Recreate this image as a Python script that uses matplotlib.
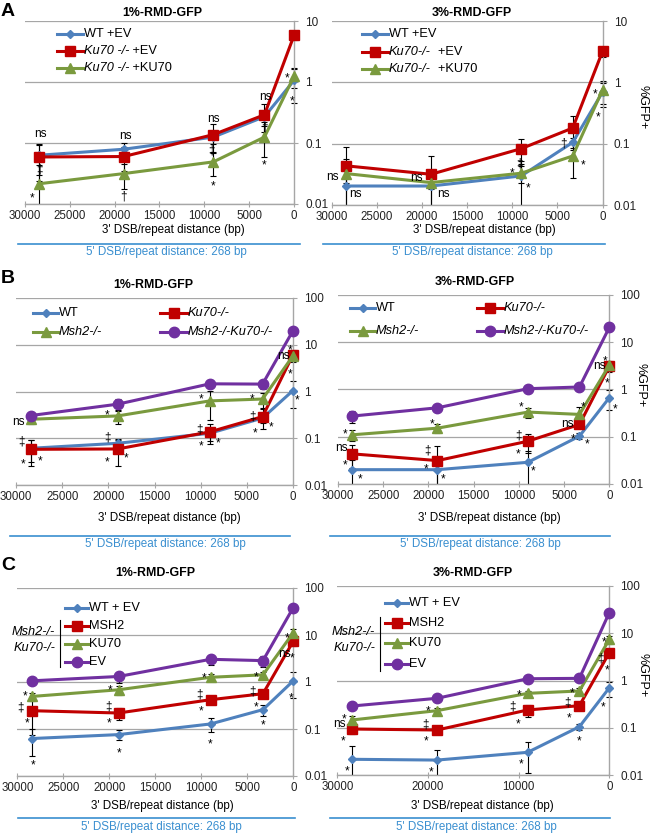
import numpy as np
import matplotlib
matplotlib.use('Agg')
import matplotlib.pyplot as plt
from matplotlib.lines import Line2D
from matplotlib.patches import Rectangle
from matplotlib.text import Annotation
from matplotlib.ticker import NullLocator

plt.rcParams['font.family'] = ['Liberation Sans', 'DejaVu Sans']

# 3' DSB/repeat distance (bp) of the five reporters
dist = [28400, 19000, 9000, 3300, 0]

# --- panel A (%GFP+, mean and sd) ---
a1_wt = [0.063, 0.079, 0.125, 0.27, 1.06]
a1_ku = [0.059, 0.060, 0.137, 0.29, 5.8]
a1_kuku = [0.0215, 0.0315, 0.049, 0.125, 1.24]
a1_wt_sd = [0.033, 0.02, 0.03, 0.05, 0.6]
a1_ku_sd = [0.035, 0.025, 0.065, 0.14, 1.0]
a1_kuku_sd = [0.022, 0.014, 0.02, 0.065, 0.45]

a2_wt = [0.0204, 0.0204, 0.0298, 0.105, 0.69]
a2_ku = [0.0435, 0.0317, 0.083, 0.18, 3.2]
a2_kuku = [0.0325, 0.0232, 0.033, 0.063, 0.75]
a2_wt_sd = [0.035, 0.015, 0.022, 0.02, 0.3]
a2_ku_sd = [0.045, 0.032, 0.036, 0.1, 0.6]
a2_kuku_sd = [0.01, 0.005, 0.01, 0.035, 0.3]

# --- panel B ---
b1_wt = [0.061, 0.078, 0.128, 0.27, 1.05]
b1_ku = [0.058, 0.059, 0.137, 0.29, 6.1]
b1_msh = [0.255, 0.30, 0.63, 0.69, 5.8]
b1_dko = [0.306, 0.535, 1.46, 1.44, 20.0]
b1_wt_sd = [0.03, 0.02, 0.04, 0.06, 0.6]
b1_ku_sd = [0.033, 0.033, 0.06, 0.13, 1.5]
b1_msh_sd = [0.05, 0.1, 0.38, 0.24, 1.5]
b1_dko_sd = [0.06, 0.16, 0.3, 0.3, 3.0]

b2_wt = [0.0201, 0.0201, 0.0288, 0.103, 0.67]
b2_ku = [0.0434, 0.0313, 0.0805, 0.182, 3.1]
b2_msh = [0.11, 0.152, 0.333, 0.297, 3.26]
b2_dko = [0.274, 0.41, 1.04, 1.13, 20.6]
b2_wt_sd = [0.012, 0.015, 0.02, 0.015, 0.3]
b2_ku_sd = [0.022, 0.033, 0.035, 0.03, 0.8]
b2_msh_sd = [0.03, 0.03, 0.08, 0.12, 0.8]
b2_dko_sd = [0.08, 0.05, 0.15, 0.15, 3.0]

# --- panel C ---
c1_wt = [0.0627, 0.076, 0.128, 0.258, 1.06]
c1_msh2 = [0.245, 0.219, 0.42, 0.563, 7.4]
c1_ku70 = [0.493, 0.683, 1.26, 1.42, 11.2]
c1_ev = [1.06, 1.31, 3.04, 2.85, 38.4]
c1_wt_sd = [0.036, 0.017, 0.043, 0.065, 0.6]
c1_msh2_sd = [0.17, 0.06, 0.06, 0.08, 1.5]
c1_ku70_sd = [0.1, 0.15, 0.2, 0.2, 2.0]
c1_ev_sd = [0.15, 0.35, 0.7, 0.8, 5.0]

c2_wt = [0.0215, 0.0207, 0.0302, 0.105, 0.70]
c2_msh2 = [0.094, 0.0896, 0.238, 0.293, 3.88]
c2_ku70 = [0.146, 0.23, 0.535, 0.6, 7.43]
c2_ev = [0.288, 0.42, 1.09, 1.11, 27.3]
c2_wt_sd = [0.02, 0.013, 0.019, 0.015, 0.25]
c2_msh2_sd = [0.02, 0.015, 0.065, 0.04, 0.8]
c2_ku70_sd = [0.035, 0.03, 0.06, 0.08, 1.5]
c2_ev_sd = [0.04, 0.05, 0.1, 0.1, 3.0]

# significance marks: (text, distance, %GFP+)
a1_notes = [('ns', 28250, 0.142), ('ns', 18850, 0.129), ('ns', 9000, 0.25), ('ns', 3230, 0.57),
            ('‡', 28400, 0.0366), ('*', 29250, 0.0145), ('†', 19030, 0.0134),
            ('‡', 9180, 0.074), ('*', 9070, 0.023), ('†', 3310, 0.178), ('*', 3310, 0.0507),
            ('*', 740, 1.34), ('*', 260, 0.57)]
a2_notes = [('ns', 29890, 0.029), ('ns', 27420, 0.0149), ('ns', 20590, 0.0273), ('ns', 17640, 0.0149),
            ('*', 10000, 0.0383), ('‡', 9150, 0.0474), ('*', 8230, 0.0218), ('†', 4350, 0.1),
            ('*', 2140, 0.0524), ('*', 850, 0.73), ('*', 480, 0.31)]
b1_notes = [('ns', 29750, 0.228), ('‡', 29390, 0.085), ('*', 29280, 0.0343), ('*', 27410, 0.0386),
            ('*', 20120, 0.373), ('‡', 20120, 0.103), ('*', 20120, 0.037), ('*', 18030, 0.0454),
            ('*', 9920, 0.82), ('‡', 10170, 0.156), ('*', 9990, 0.082), ('*', 8110, 0.097),
            ('*', 4400, 0.82), ('‡', 4400, 0.29), ('*', 4150, 0.158), ('*', 2340, 0.21),
            ('*', 290, 9.2), ('ns', 1080, 5.8), ('*', 290, 2.9), ('*', -470, 0.78)]
b2_notes = [('*', 29220, 0.14), ('ns', 29590, 0.057), ('*', 29220, 0.0298), ('*', 27570, 0.015),
            ('*', 19590, 0.221), ('‡', 20140, 0.051), ('*', 20220, 0.0254), ('*', 18380, 0.0155),
            ('*', 9810, 0.5), ('‡', 10000, 0.106), ('*', 10110, 0.053), ('*', 8450, 0.0226),
            ('*', 2940, 0.5), ('ns', 4600, 0.188), ('*', 4040, 0.11), ('*', 2460, 0.083),
            ('*', 480, 4.9), ('ns', 1100, 3.1), ('*', 290, 1.64), ('*', -660, 0.46)]
c1_notes = [('*', 29170, 0.6), ('‡', 29640, 0.29), ('*', 28980, 0.158), ('*', 28330, 0.0208),
            ('*', 19900, 0.8), ('‡', 20080, 0.303), ('*', 19980, 0.164), ('*', 18990, 0.0367),
            ('*', 9730, 1.49), ('‡', 10170, 0.535), ('*', 10020, 0.288), ('*', 9080, 0.0578),
            ('*', 4100, 1.54), ('‡', 4470, 0.63), ('*', 4100, 0.345), ('*', 3300, 0.144),
            ('*', 730, 10.5), ('ns', 1020, 3.94), ('*', 110, 3.94), ('*', 290, 0.56)]
c2_notes = [('*', 29260, 0.186), ('ns', 29780, 0.118), ('*', 29340, 0.063), ('*', 28970, 0.0145),
            ('*', 19990, 0.27), ('‡', 20240, 0.12), ('*', 20170, 0.0627), ('*', 19620, 0.0138),
            ('*', 9900, 0.58), ('‡', 10630, 0.279), ('*', 10010, 0.146), ('*', 9750, 0.0201),
            ('*', 4140, 0.65), ('‡', 4580, 0.345), ('*', 4400, 0.195), ('*', 3370, 0.0627),
            ('*', 550, 7.8), ('‡', 990, 2.94), ('*', 290, 2.03), ('*', 660, 0.329)]

# legend labels as (text, style) pieces
a1_labels = [[('WT +EV', 'normal')], [('Ku70 -/-', 'italic'), (' +EV', 'normal')],
             [('Ku70 -/-', 'italic'), (' +KU70', 'normal')]]
a2_labels = [[('WT +EV', 'normal')], [('Ku70-/-', 'italic'), ('  +EV', 'normal')],
             [('Ku70-/-', 'italic'), ('  +KU70', 'normal')]]
b_labels = [[('WT', 'normal')], [('Ku70-/-', 'italic')], [('Msh2-/-', 'italic')],
            [('Msh2-/-Ku70-/-', 'italic')]]
c_labels = [[('WT + EV', 'normal')], [('MSH2', 'normal')], [('KU70', 'normal')], [('EV', 'normal')]]

ticks_a = [0.01, 0.1, 1, 10]
ticklabels_a = ['0.01', '0.1', '1', '10']
ticks_bc = [0.01, 0.1, 1, 10, 100]
ticklabels_bc = ['0.01', '0.1', '1', '10', '100']
xticks_5k = [0, 5000, 10000, 15000, 20000, 25000, 30000]
xticks_10k = [0, 10000, 20000, 30000]

blue = '#4F81BD'
red = '#C00000'
green = '#7A9A3E'
purple = '#7030A0'
grey = '#A6A6A6'
sky = '#3A8FD0'
sty_wt = (blue, 'D', 4.5)
sty_red = (red, 's', 6.5)
sty_green = (green, '^', 7)
sty_purple = (purple, 'o', 7.5)

W, H = 650, 834
fig = plt.figure(figsize=(6.5, 8.34), dpi=100)


def ftext(x, y, s, **kw):
    return fig.text(x / W, 1 - y / H, s, **kw)


def panel(box, ymax, yticks, yticklabels, xticks, series, notes):
    x0, x1, ytop, ybot = box
    ax = fig.add_axes([x0 / W, 1 - ybot / H, (x1 - x0) / W, (ybot - ytop) / H])
    ax.set_yscale('log')
    ax.set_xlim(30000, 0)
    ax.set_ylim(0.01, ymax)
    for side in ['left', 'top']:
        ax.spines[side].set_visible(False)
    for side in ['right', 'bottom']:
        ax.spines[side].set_color(grey)
        ax.spines[side].set_linewidth(1.0)
    ax.yaxis.tick_right()
    ax.set_yticks(yticks)
    ax.set_yticklabels(yticklabels)
    ax.yaxis.set_minor_locator(NullLocator())
    ax.set_xticks(xticks)
    ax.set_xticklabels([str(t) for t in xticks])
    ax.tick_params(axis='x', direction='inout', length=5, color=grey, labelsize=8.3, pad=2,
                   labelcolor='#222222')
    ax.tick_params(axis='y', direction='out', length=3, color=grey, labelsize=8.5, pad=5,
                   labelcolor='#222222')
    ax.grid(axis='y', color=grey, lw=0.9)
    ax.set_axisbelow(True)
    clip = Rectangle((-0.06, 0), 1.12, 1.3, transform=ax.transAxes)
    for y, sd, (c, m, ms) in series:
        y = np.array(y)
        sd = np.array(sd)
        lo = np.minimum(sd, y * 0.999)
        eb = ax.errorbar(dist, y, yerr=[lo, sd], fmt='none', ecolor='black', elinewidth=0.8,
                         capsize=2.5, capthick=0.8, zorder=2)
        for art in list(eb.lines[1]) + list(eb.lines[2]):
            art.set_clip_path(clip)
    for y, sd, (c, m, ms) in series:
        ax.plot(dist, y, color=c, lw=2.2, marker=m, ms=ms, zorder=3, clip_on=False)
    for s, x, y in notes:
        dy = -3 if s == '*' else 0
        ax.annotate(s, (x, y), xytext=(0, dy), textcoords='offset points', ha='center',
                    va='center', fontsize=8.5, annotation_clip=False, zorder=4)
    return ax


def chain_entry(x0, x1, y, sty, parts, size=9.2):
    c, m, ms = sty
    fig.add_artist(Line2D([x0 / W, x1 / W], [1 - y / H] * 2, color=c, lw=2.2))
    fig.add_artist(Line2D([(x0 + x1) / 2 / W], [1 - y / H], color=c, marker=m, ms=ms))
    prev = ftext(x1 + 1, y, parts[0][0], style=parts[0][1], va='center', fontsize=size)
    for s, st in parts[1:]:
        prev = fig.add_artist(Annotation(s, xy=(1, 0.5), xycoords=prev, va='center', ha='left',
                                         style=st, fontsize=size))


def footer(xl, xr, xc_label, y_label, xc_blue, y_line, y_blue):
    ftext(xc_label, y_label, "3' DSB/repeat distance (bp)", ha='center', va='center', fontsize=8.4)
    fig.add_artist(Line2D([xl / W, xr / W], [1 - y_line / H] * 2, color=sky, lw=1.2))
    ftext(xc_blue, y_blue, "5' DSB/repeat distance: 268 bp", ha='center', va='center',
          fontsize=8.4, color=sky)


def titles(y_left, y_right, x_left, x_right):
    ftext(x_left, y_left, '1%-RMD-GFP', fontsize=8.9, weight='bold', ha='center', va='center')
    ftext(x_right, y_right, '3%-RMD-GFP', fontsize=8.9, weight='bold', ha='center', va='center')


b_sty = [sty_wt, sty_red, sty_green, sty_purple]

# ---------------- A ----------------
panel((25, 294, 21, 204), 10, ticks_a, ticklabels_a, xticks_5k,
      [(a1_wt, a1_wt_sd, sty_wt), (a1_ku, a1_ku_sd, sty_red), (a1_kuku, a1_kuku_sd, sty_green)],
      a1_notes)
panel((331.7, 602.5, 21, 205), 10, ticks_a, ticklabels_a, xticks_5k,
      [(a2_wt, a2_wt_sd, sty_wt), (a2_ku, a2_ku_sd, sty_red), (a2_kuku, a2_kuku_sd, sty_green)],
      a2_notes)
for y, sty, lab in zip([34, 51, 68], b_sty, a1_labels):
    chain_entry(57, 83, y, sty, lab)
for y, sty, lab in zip([34, 52, 69], b_sty, a2_labels):
    chain_entry(362, 388, y, sty, lab)
ftext(8, 12, 'A', fontsize=14, weight='bold', ha='center', va='center')
titles(13, 13, 162, 472)
ftext(642, 107, '%GFP+', fontsize=9, rotation=270, ha='center', va='center')
footer(18, 300, 173, 230, 166, 244, 252)
footer(323, 605, 484, 230, 472, 244, 252)

# ---------------- B ----------------
panel((16, 293, 298, 485), 100, ticks_bc, ticklabels_bc, xticks_5k,
      [(b1_wt, b1_wt_sd, sty_wt), (b1_ku, b1_ku_sd, sty_red), (b1_msh, b1_msh_sd, sty_green),
       (b1_dko, b1_dko_sd, sty_purple)], b1_notes)
panel((338, 609.3, 295, 484), 100, ticks_bc, ticklabels_bc, xticks_5k,
      [(b2_wt, b2_wt_sd, sty_wt), (b2_ku, b2_ku_sd, sty_red), (b2_msh, b2_msh_sd, sty_green),
       (b2_dko, b2_dko_sd, sty_purple)], b2_notes)
for (x0, x1, y), sty, lab in zip([(33, 58, 313), (160, 187, 313), (33, 58, 332), (160, 187, 332)],
                                 b_sty, b_labels):
    chain_entry(x0, x1, y, sty, lab)
for (x0, x1, y), sty, lab in zip([(350, 375, 308), (477, 503, 308), (350, 375, 331), (477, 503, 331)],
                                 b_sty, b_labels):
    chain_entry(x0, x1, y, sty, lab)
ftext(8, 279, 'B', fontsize=14, weight='bold', ha='center', va='center')
titles(285, 282, 153, 475)
ftext(640, 385, '%GFP+', fontsize=9, rotation=270, ha='center', va='center')
footer(10, 290, 169, 518, 165, 536, 544)
footer(330, 610, 489, 518, 480, 536, 544)

# ---------------- C ----------------
panel((17.3, 293.3, 588, 776), 100, ticks_bc, ticklabels_bc, xticks_5k,
      [(c1_wt, c1_wt_sd, sty_wt), (c1_msh2, c1_msh2_sd, sty_red), (c1_ku70, c1_ku70_sd, sty_green),
       (c1_ev, c1_ev_sd, sty_purple)], c1_notes)
panel((337.3, 609.3, 586, 775), 100, ticks_bc, ticklabels_bc, xticks_10k,
      [(c2_wt, c2_wt_sd, sty_wt), (c2_msh2, c2_msh2_sd, sty_red), (c2_ku70, c2_ku70_sd, sty_green),
       (c2_ev, c2_ev_sd, sty_purple)], c2_notes)
for y, sty, lab in zip([608, 626, 644, 662], b_sty, c_labels):
    chain_entry(65, 88, y, sty, lab)
for y, sty, lab in zip([603, 623, 643, 664], b_sty, c_labels):
    chain_entry(385, 408, y, sty, lab)
fig.add_artist(Line2D([60 / W] * 2, [1 - 620 / H, 1 - 667 / H], color='black', lw=0.8))
fig.add_artist(Line2D([380 / W] * 2, [1 - 617 / H, 1 - 671 / H], color='black', lw=0.8))
ftext(55, 640, 'Msh2-/-\nKu70-/-', style='italic', fontsize=9.2, ha='right', va='center',
      linespacing=1.4)
ftext(375, 640, 'Msh2-/-\nKu70-/-', style='italic', fontsize=9.2, ha='right', va='center',
      linespacing=1.4)
ftext(8, 566, 'C', fontsize=14, weight='bold', ha='center', va='center')
titles(573, 573, 155, 473)
ftext(642, 675, '%GFP+', fontsize=9, rotation=270, ha='center', va='center')
footer(18, 295, 162, 806, 161, 818, 827)
footer(330, 610, 482, 806, 476, 818, 827)

fig.savefig('out.png', dpi=100)
